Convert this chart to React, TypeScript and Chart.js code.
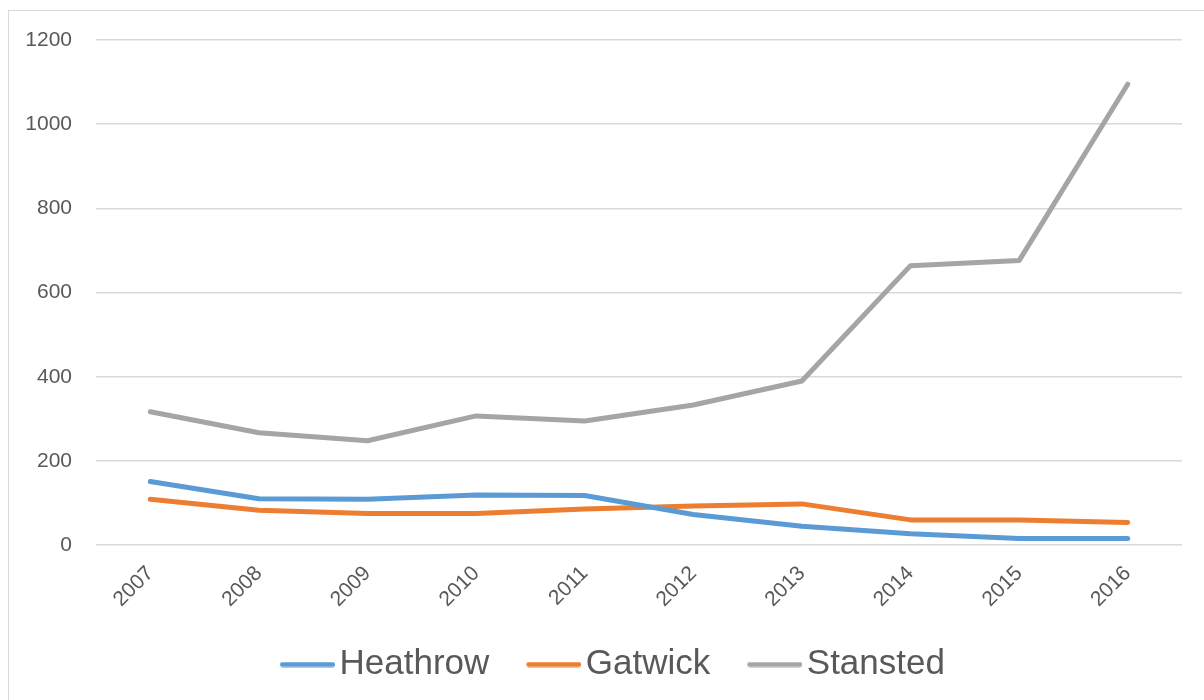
import React, { useEffect, useRef } from "react";
import { Chart, registerables } from "chart.js";

Chart.register(...registerables);

const years = ["2007", "2008", "2009", "2010", "2011", "2012", "2013", "2014", "2015", "2016"];
const heathrow = [151, 110, 109, 119, 118, 73, 45, 27, 16, 16];
const gatwick = [109, 83, 75, 75, 86, 93, 98, 60, 60, 54];
const stansted = [317, 267, 248, 307, 295, 333, 390, 664, 676, 1095];
const yTicks = [0, 200, 400, 600, 800, 1000, 1200];

const seriesNames = ["Heathrow", "Gatwick", "Stansted"];
const seriesColors = ["#5B9BD5", "#ED7D31", "#A5A5A5"];

// legend icon: transparent lead-in, then a 55px rounded line
function legendLine(color: string) {
  const c = document.createElement("canvas");
  c.width = 86;
  c.height = 6;
  const ctx = c.getContext("2d")!;
  ctx.strokeStyle = color;
  ctx.lineWidth = 5;
  ctx.lineCap = "round";
  ctx.beginPath();
  ctx.moveTo(31 + 2.5, 3);
  ctx.lineTo(86 - 2.5, 3);
  ctx.stroke();
  return c;
}

export default function App() {
  const ref = useRef<HTMLCanvasElement | null>(null);

  useEffect(() => {
    if (!ref.current) return;
    const values = [heathrow, gatwick, stansted];
    const icons = seriesColors.map(legendLine);
    const chart = new Chart(ref.current, {
      type: "line",
      data: {
        labels: years,
        datasets: values.map((v, i) => ({
          label: seriesNames[i],
          data: v,
          borderColor: seriesColors[i],
          backgroundColor: seriesColors[i],
          borderWidth: 5,
          pointRadius: 0,
          tension: 0,
          borderCapStyle: "round" as const,
          borderJoinStyle: "round" as const,
          fill: false,
        })),
      },
      options: {
        animation: false,
        responsive: true,
        maintainAspectRatio: false,
        layout: { padding: { top: 28, right: 22, left: 15, bottom: 8 } },
        plugins: {
          tooltip: { enabled: false },
          legend: {
            position: "bottom",
            labels: {
              usePointStyle: true,
              pointStyleWidth: 60,
              boxHeight: 6,
              padding: 19,
              color: "#595959",
              font: { family: "'Liberation Sans', Arial, sans-serif", size: 35 },
              generateLabels: (c: any) =>
                Chart.defaults.plugins.legend.labels
                  .generateLabels(c)
                  .map((it: any, i: number) => ({ ...it, lineWidth: 0, pointStyle: icons[i] })),
            },
          },
        },
        scales: {
          x: {
            offset: true,
            grid: { display: false, drawTicks: false },
            border: { display: false },
            afterFit: (axis: any) => {
              axis.paddingLeft = 0;
              axis.paddingRight = 0;
            },
            ticks: {
              color: "#595959",
              font: { family: "'Liberation Sans', Arial, sans-serif", size: 21 },
              minRotation: 45,
              maxRotation: 45,
              padding: 16,
            },
          },
          y: {
            min: 0,
            max: 1200,
            afterBuildTicks: (axis: any) => {
              axis.ticks = yTicks.map((v) => ({ value: v }));
            },
            afterFit: (axis: any) => {
              axis.width = 71;
              axis.paddingTop = 0;
              axis.paddingBottom = 0;
            },
            grid: { color: "#d9d9d9", lineWidth: 1.5, drawTicks: false },
            border: { display: false },
            ticks: {
              color: "#595959",
              font: { family: "'Liberation Sans', Arial, sans-serif", size: 21 },
              padding: 24,
              callback: (v: any) => String(v),
            },
          },
        },
      },
    });
    return () => chart.destroy();
  }, []);

  return (
    <div style={{ position: "fixed", left: 0, top: 0, width: 1204, height: 700, overflow: "hidden", background: "#fff" }}>
      <div
        style={{
          position: "absolute",
          left: 8,
          top: 10,
          width: 1220,
          height: 720,
          border: "1.5px solid #d9d9d9",
          boxSizing: "border-box",
        }}
      />
      <div style={{ position: "absolute", left: 10, top: 12, width: 1194, height: 688 }}>
        <canvas ref={ref} />
      </div>
    </div>
  );
}
